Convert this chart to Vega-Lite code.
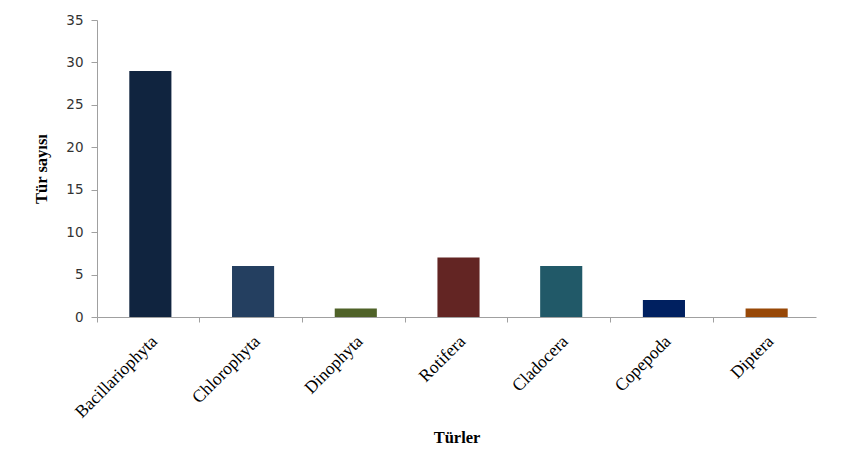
{
  "$schema": "https://vega.github.io/schema/vega-lite/v6.json",
  "autosize": {"type": "none"},
  "padding": {"left": 97, "top": 20, "right": 30, "bottom": 153},
  "width": 719,
  "height": 297,
  "background": "white",
  "config": {"view": {"stroke": null}},
  "data": {
    "values": [
      {"group": "Bacillariophyta", "count": 29},
      {"group": "Chlorophyta", "count": 6},
      {"group": "Dinophyta", "count": 1},
      {"group": "Rotifera", "count": 7},
      {"group": "Cladocera", "count": 6},
      {"group": "Copepoda", "count": 2},
      {"group": "Diptera", "count": 1}
    ]
  },
  "mark": {"type": "bar", "width": {"band": 0.41}, "xOffset": 2},
  "encoding": {
    "x": {
      "field": "group",
      "type": "nominal",
      "sort": null,
      "scale": {"paddingInner": 0, "paddingOuter": 0},
      "axis": {
        "title": "Türler",
        "titleFont": "Liberation Serif",
        "titleFontSize": 16.5,
        "titleFontWeight": "bold",
        "titleColor": "#000000",
        "titlePadding": 9,
        "labelAngle": -45,
        "labelFont": "Liberation Serif",
        "labelFontSize": 17.5,
        "labelColor": "#000000",
        "labelPadding": 10,
        "bandPosition": 0,
        "tickSize": 5,
        "tickColor": "#A0A0A0",
        "domainColor": "#A0A0A0",
        "grid": false
      }
    },
    "y": {
      "field": "count",
      "type": "quantitative",
      "scale": {"domain": [0, 35], "nice": false},
      "axis": {
        "title": "Tür sayısı",
        "titleFont": "Liberation Serif",
        "titleFontSize": 16.5,
        "titleFontWeight": "bold",
        "titleColor": "#000000",
        "titlePadding": 16,
        "values": [0, 5, 10, 15, 20, 25, 30, 35],
        "labelFont": "DejaVu Sans",
        "labelFontSize": 13.5,
        "labelColor": "#333333",
        "labelPadding": 8,
        "tickSize": 6,
        "tickColor": "#A0A0A0",
        "domainColor": "#A0A0A0",
        "grid": false
      }
    },
    "color": {
      "field": "group",
      "type": "nominal",
      "sort": null,
      "scale": {
        "domain": ["Bacillariophyta", "Chlorophyta", "Dinophyta", "Rotifera", "Cladocera", "Copepoda", "Diptera"],
        "range": ["#10243F", "#243F60", "#4F6228", "#632523", "#215968", "#002060", "#984807"]
      },
      "legend": null
    }
  }
}
